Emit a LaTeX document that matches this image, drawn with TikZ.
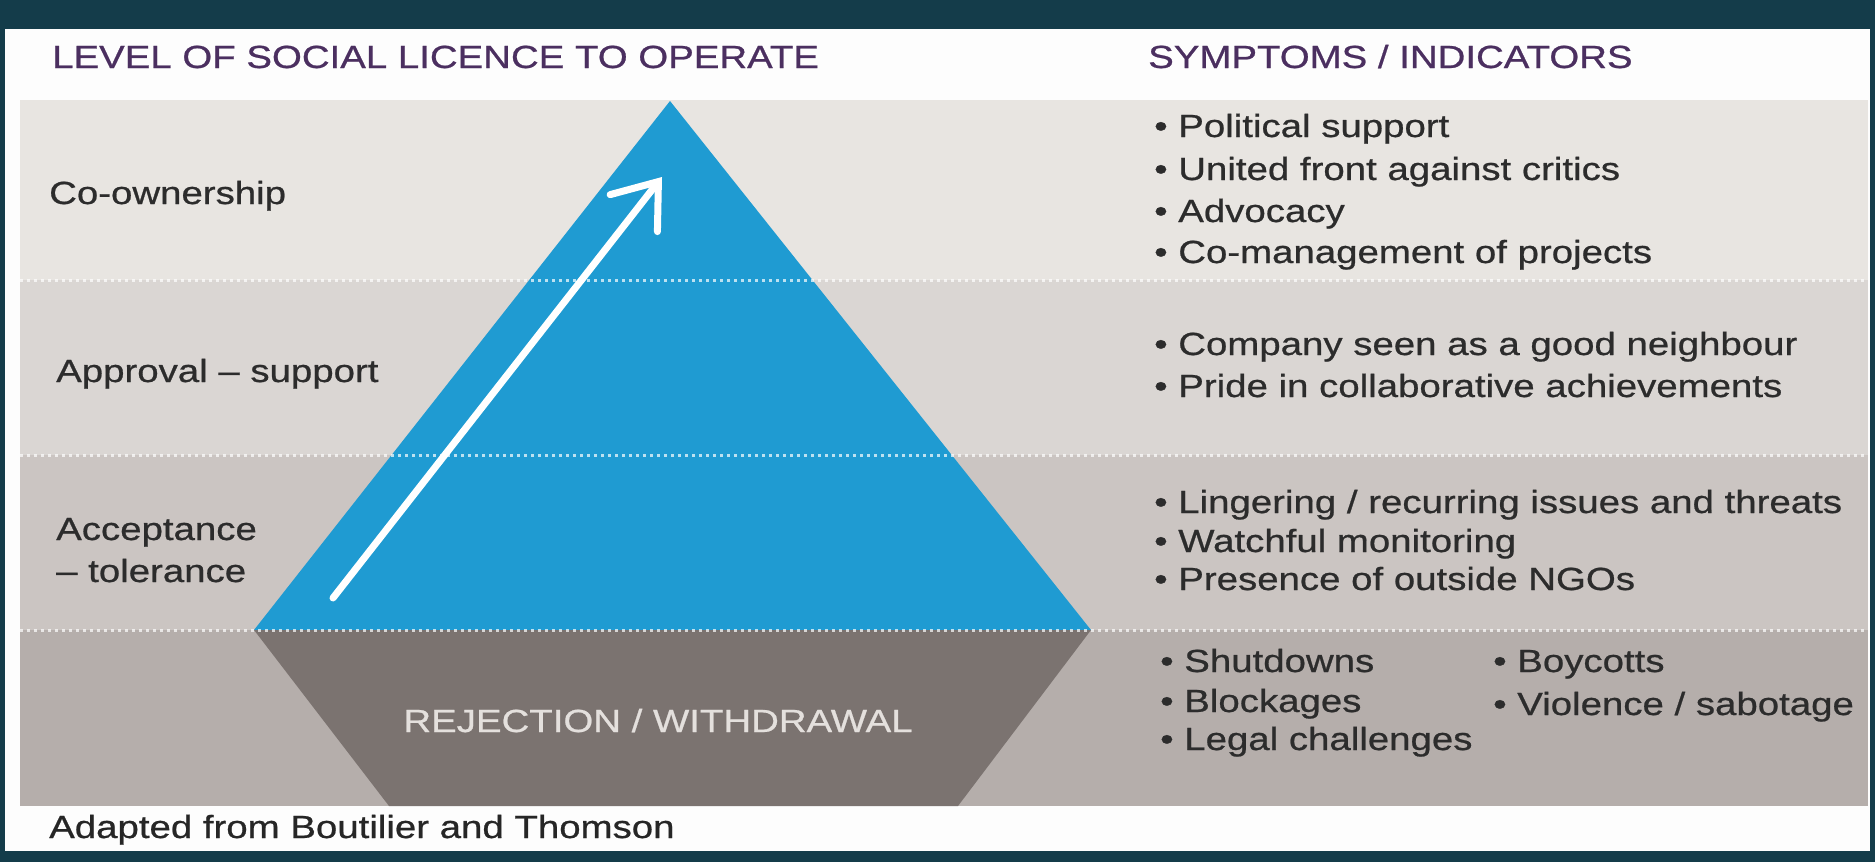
\documentclass[tikz,border=0pt]{standalone}
\usepackage{fontspec}
\setmainfont{Liberation Sans}[FakeStretch=1.2]
\newfontfamily\heavyfont{Liberation Sans}[FakeStretch=1.2,FakeBold=0.7]
\usetikzlibrary{arrows.meta}
\definecolor{frame}{HTML}{143C4A}
\definecolor{panel}{HTML}{FDFDFD}
\definecolor{bandA}{HTML}{E8E5E1}
\definecolor{bandB}{HTML}{DAD6D3}
\definecolor{bandC}{HTML}{CBC5C2}
\definecolor{bandD}{HTML}{B5AEAB}
\definecolor{pyr}{HTML}{1F9BD2}
\definecolor{rej}{HTML}{7B7370}
\definecolor{rejtxt}{HTML}{E4E0DD}
\definecolor{head}{HTML}{4B2F60}
\definecolor{body}{HTML}{2C2C2C}
\tikzset{
  txt/.style={anchor=base west, inner sep=0pt, text=body, font=\heavyfont\fontsize{32}{42}\selectfont},
  hdr/.style={txt, text=head},
  sep/.style={white, opacity=0.7, line width=3pt, dash pattern=on 3pt off 4pt},
}
\begin{document}
\begin{tikzpicture}[x=1pt,y=-1pt]
\useasboundingbox (0,0) rectangle (1875,862);
\fill[frame] (0,0) rectangle (1875,862);
\fill[panel] (5,29) rectangle (1870,851);
% bands
\fill[bandA] (20,100) rectangle (1868,280);
\fill[bandB] (20,280) rectangle (1868,455);
\fill[bandC] (20,455) rectangle (1868,630);
\fill[bandD] (20,630) rectangle (1868,806);
% pyramid
\coordinate (apex) at (670,101);
\coordinate (bl) at (254,630);
\coordinate (br) at (1091,630);
\fill[pyr] (apex) -- (br) -- (bl) -- cycle;
\coordinate (tl) at (389,806);
\coordinate (tr) at (958,806);
\fill[rej] (bl) -- (br) -- (tr) -- (tl) -- cycle;
% separators
\coordinate (s1l) at (20,280); \coordinate (s1r) at (1868,280);
\coordinate (s2l) at (20,455); \coordinate (s2r) at (1868,455);
\coordinate (s3l) at (20,630); \coordinate (s3r) at (1868,630);
\draw[sep] (s1l) -- (s1r);
\draw[sep] (s2l) -- (s2r);
\draw[sep] (s3l) -- (s3r);
% arrow
\coordinate (atail) at (333,598);
\coordinate (ahead) at (662,177);
\draw[white, line width=7pt, line cap=round, -{Straight Barb[length=40pt,width=60pt,line cap=round]}] (atail) -- (ahead);
% headers
\node[hdr] (h1) at (52,68) {LEVEL OF SOCIAL LICENCE TO OPERATE};
\node[hdr] (h2) at (1148,68) {SYMPTOMS / INDICATORS};
% left labels
\node[txt] (l1) at (49,204) {Co-ownership};
\node[txt] (l2) at (56,382) {Approval – support};
\node[txt] (l3a) at (56,540) {Acceptance};
\node[txt] (l3b) at (56,582) {– tolerance};
\node[txt, anchor=base, text=rejtxt] (l4) at (658,732) {REJECTION / WITHDRAWAL};
% right bullets
\node[txt] (b1) at (1154,137) {• Political support};
\node[txt] (b2) at (1154,180) {• United front against critics};
\node[txt] (b3) at (1154,222) {• Advocacy};
\node[txt] (b4) at (1154,263) {• Co-management of projects};
\node[txt] (b5) at (1154,355) {• Company seen as a good neighbour};
\node[txt] (b6) at (1154,397) {• Pride in collaborative achievements};
\node[txt] (b7) at (1154,513) {• Lingering / recurring issues and threats};
\node[txt] (b8) at (1154,552) {• Watchful monitoring};
\node[txt] (b9) at (1154,590) {• Presence of outside NGOs};
\node[txt] (c1) at (1160,672) {• Shutdowns};
\node[txt] (c2) at (1160,712) {• Blockages};
\node[txt] (c3) at (1160,750) {• Legal challenges};
\node[txt] (c4) at (1493,672) {• Boycotts};
\node[txt] (c5) at (1493,715) {• Violence / sabotage};
% footer
\node[txt, text=black!85] (ft) at (49,838) {Adapted from Boutilier and Thomson};
\end{tikzpicture}
\end{document}
